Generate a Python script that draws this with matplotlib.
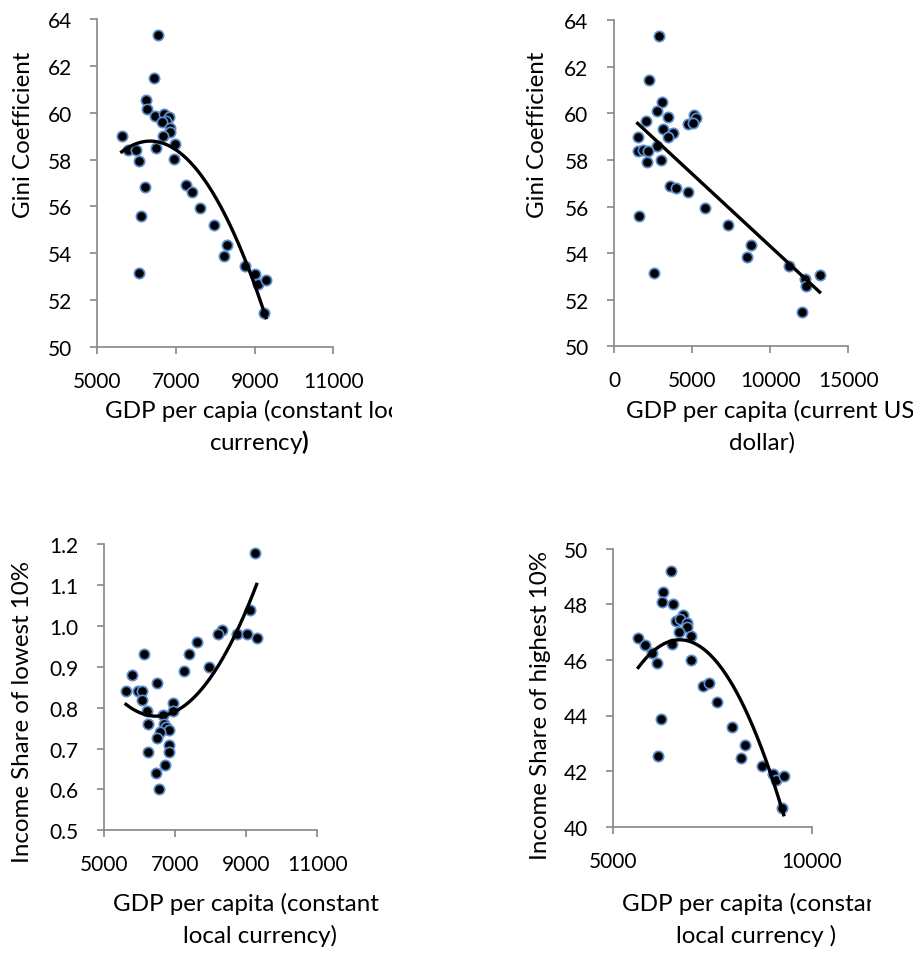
import numpy as np
import matplotlib
matplotlib.use("Agg")
import matplotlib.pyplot as plt
from matplotlib.transforms import Bbox

plt.rcParams['font.family'] = ['Lato', 'DejaVu Sans']
plt.rcParams['mathtext.fontset'] = 'custom'
plt.rcParams['mathtext.rm'] = 'Lato'
plt.rcParams['mathtext.bf'] = 'Lato:bold'

# --- Gini vs GDP per capita (constant local currency) ---
gdp_const_gini = [6542, 6449, 6229, 6254, 6475, 6695, 6831, 6746, 6636, 6848, 6848,
                  6661, 6966, 5619, 5788, 5983, 6483, 6068, 6941, 6212, 6110, 6068,
                  7254, 7407, 7610, 7975, 8297, 8212, 8746, 9000, 9077, 9288, 9237]
gini_a = [63.32, 61.46, 60.53, 60.14, 59.87, 59.94, 59.83, 59.66, 59.59, 59.33, 59.16,
          59.02, 58.65, 59.00, 58.41, 58.41, 58.48, 57.93, 58.03, 56.85, 55.60, 53.17,
          56.90, 56.63, 55.94, 55.23, 54.37, 53.88, 53.48, 53.11, 52.68, 52.88, 51.48]

# --- Gini vs GDP per capita (current US dollar) ---
gdp_usd = [2881, 2262, 3052, 2753, 3478, 2049, 5143, 5228, 4759, 5058, 3116, 3756,
           3457, 1536, 2774, 1515, 1878, 2198, 2113, 3030, 3585, 3948, 4737, 1600,
           2582, 5826, 7277, 8792, 8515, 11204, 12228, 12271, 13167, 12015]
gini_b = [63.30, 61.43, 60.50, 60.11, 59.84, 59.69, 59.93, 59.80, 59.56, 59.59, 59.33,
          59.14, 58.97, 58.98, 58.61, 58.37, 58.44, 58.40, 57.93, 58.01, 56.87, 56.81,
          56.62, 55.58, 53.15, 55.92, 55.21, 54.36, 53.85, 53.45, 52.88, 52.60, 53.08,
          51.46]

# --- Income share of lowest 10% ---
gdp_const_low = [9238, 9106, 8309, 8206, 8731, 9013, 9294, 7606, 7391, 7259, 7963,
                 6125, 5797, 5619, 5966, 6069, 6078, 6481, 6219, 6950, 6950, 6650,
                 6228, 6688, 6744, 6838, 6575, 6481, 6838, 6247, 6819, 6716, 6453, 6538]
share_low = [1.179, 1.039, 0.991, 0.980, 0.980, 0.980, 0.970, 0.960, 0.931, 0.891,
             0.900, 0.931, 0.880, 0.840, 0.840, 0.840, 0.820, 0.861, 0.791, 0.812,
             0.791, 0.781, 0.761, 0.761, 0.752, 0.746, 0.740, 0.726, 0.710, 0.691,
             0.691, 0.661, 0.641, 0.600]

# --- Income share of highest 10% ---
gdp_const_high = [6443, 6258, 6216, 6493, 6745, 6577, 6678, 6846, 6846, 6661, 6963,
                  5629, 5805, 6485, 5965, 6091, 6946, 7265, 7408, 7601, 6208, 7986,
                  8314, 8221, 6124, 8750, 9010, 9094, 9287, 9237]
share_high = [49.21, 48.45, 48.08, 48.00, 47.61, 47.41, 47.47, 47.33, 47.17, 47.01,
              46.85, 46.80, 46.53, 46.57, 46.25, 45.89, 46.01, 45.07, 45.17, 44.50,
              43.87, 43.57, 42.94, 42.47, 42.54, 42.17, 41.88, 41.67, 41.82, 40.66]
# published polynomial trend for the highest-10% share (GDP, share)
trend_high_gdp = [5629, 6091, 6636, 7181, 7768, 8272, 8775, 9278]
trend_high_share = [45.85, 46.33, 46.63, 46.39, 45.67, 44.47, 42.79, 40.32]

W, H = 913, 954
fig = plt.figure(figsize=(W / 100, H / 100), dpi=100)
renderer = fig.canvas.get_renderer()

AXIS_GREY = '#868686'
EDGE_BLUE = '#5b8dcf'
TICK_SIZE = 15
TITLE_SIZE = 17.4


def add_axes_px(left, top, right, bottom):
    return fig.add_axes([left / W, 1 - bottom / H, (right - left) / W, (bottom - top) / H])


def style(ax, xlim, xticks, ylim, yticks, yfmt=None):
    ax.set_xlim(*xlim)
    ax.set_ylim(*ylim)
    ax.set_xticks(xticks)
    ax.set_yticks(yticks)
    if yfmt:
        ax.set_yticklabels([yfmt % v for v in yticks])
    for s in ('top', 'right'):
        ax.spines[s].set_visible(False)
    for s in ('left', 'bottom'):
        ax.spines[s].set_color(AXIS_GREY)
        ax.spines[s].set_linewidth(1.2)
    ax.tick_params(axis='both', direction='out', length=4.8, width=1.2,
                   color=AXIS_GREY, labelsize=TICK_SIZE, labelcolor='black')
    ax.tick_params(axis='y', pad=13.5)
    ax.tick_params(axis='x', pad=12.5)


def draw_curve(ax, fx, fy, degree, x_from, x_to):
    coef = np.polyfit(np.asarray(fx, float), np.asarray(fy, float), degree)
    xs = np.linspace(x_from, x_to, 200)
    ax.plot(xs, np.polyval(coef, xs), color='black', lw=2.4, zorder=3, clip_on=False)


def scatter(ax, x, y):
    ax.scatter(x, y, s=55, c='black', edgecolors=EDGE_BLUE, linewidths=1.25,
               zorder=2, clip_on=False)


def text_width(s):
    t = fig.text(0, 0, s, fontsize=TITLE_SIZE)
    w = t.get_window_extent(renderer).width
    t.remove()
    return w


def ylabel_px(text, xc, yc):
    fig.text(xc / W, 1 - yc / H, text, rotation=90, ha='center', va='center',
             fontsize=TITLE_SIZE)


def xlabel_px(line1, x1, line2, x2, y1, y2, visible=None, extra=0):
    t = fig.text(x1 / W, 1 - y1 / H, line1, ha='left', va='baseline', fontsize=TITLE_SIZE)
    if visible is not None:
        right = x1 + text_width(visible) + extra
        t.set_clip_box(Bbox([[0, 0], [right, H]]))
        t.set_clip_on(True)
    fig.text(x2 / W, 1 - y2 / H, line2, ha='center', va='baseline', fontsize=TITLE_SIZE)


# top-left
ax1 = add_axes_px(97.3, 19.7, 333.3, 348.3)
style(ax1, (5000, 11000), [5000, 7000, 9000, 11000], (50, 64), list(range(50, 65, 2)))
draw_curve(ax1, gdp_const_gini, gini_a, 2, min(gdp_const_gini), max(gdp_const_gini))
scatter(ax1, gdp_const_gini, gini_a)
ylabel_px('Gini Coefficient', 23, 135)
xlabel_px('GDP per capia (constant local', 162 - text_width('GDP '),
          r'currency$\mathbf{)}$', 259, 418, 450,
          visible='GDP per capia (constant lo', extra=4)

# top-right
ax2 = add_axes_px(614, 21.1, 848.3, 347.3)
style(ax2, (0, 15000), [0, 5000, 10000, 15000], (50, 64), list(range(50, 65, 2)))
draw_curve(ax2, gdp_usd, gini_b, 1, min(gdp_usd), max(gdp_usd))
scatter(ax2, gdp_usd, gini_b)
ylabel_px('Gini Coefficient', 538, 135)
xlabel_px('GDP per capita (current US', 626, 'dollar)', 762, 418, 450)

# bottom-left
ax3 = add_axes_px(104, 545.3, 317.3, 831.3)
low_ticks = [0.5, 0.6, 0.7, 0.8, 0.9, 1.0, 1.1, 1.2]
style(ax3, (5000, 11000), [5000, 7000, 9000, 11000], (0.5, 1.2), low_ticks, '%.1f')
draw_curve(ax3, gdp_const_low, share_low, 2, min(gdp_const_low), max(gdp_const_low))
scatter(ax3, gdp_const_low, share_low)
ylabel_px('Income Share of lowest 10%', 23, 712)
xlabel_px('GDP per capita (constant', 113, 'local currency)', 260, 911, 943)

# bottom-right
ax4 = add_axes_px(613.3, 549.7, 812, 827.7)
style(ax4, (5000, 10000), [5000, 10000], (40, 50), list(range(40, 51, 2)))
draw_curve(ax4, trend_high_gdp, trend_high_share, 2, min(gdp_const_high), max(gdp_const_high))
scatter(ax4, gdp_const_high, share_high)
ylabel_px('Income Share of highest 10%', 540, 706)
xlabel_px('GDP per capita (constant', 622, 'local currency )', 756, 911, 943,
          visible='GDP per capita (consta', extra=5)

fig.savefig('out.png', dpi=100)
